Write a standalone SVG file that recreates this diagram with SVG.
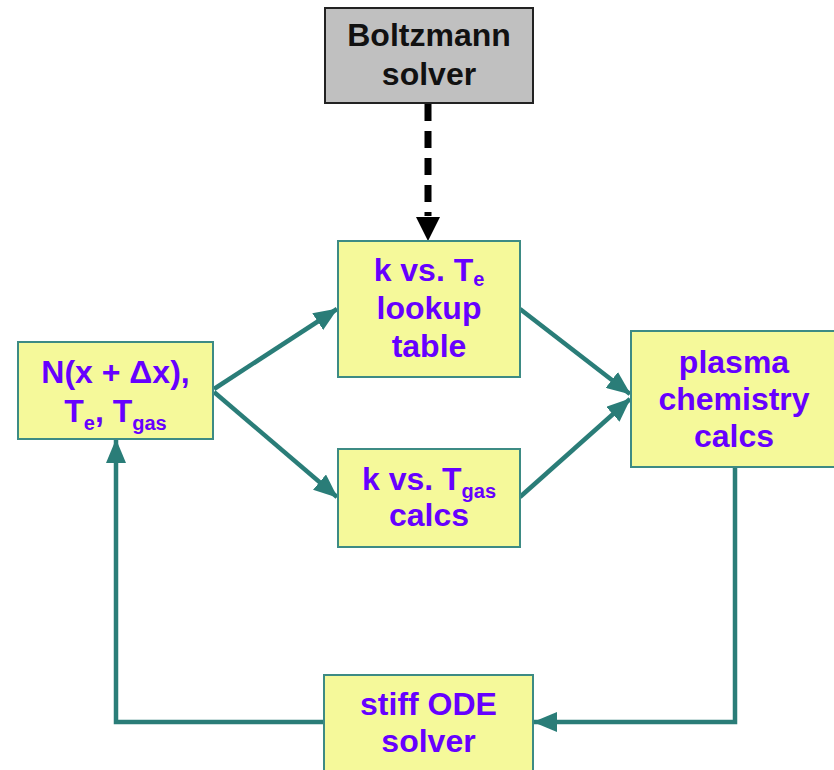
<svg xmlns="http://www.w3.org/2000/svg" width="834" height="770" viewBox="0 0 834 770">
<style>
.box{fill:#f5f99a;stroke:#3d8b84;stroke-width:2}
.gray{fill:#c0c0c0;stroke:#222;stroke-width:2}
.t{font-family:"Liberation Sans",Arial,sans-serif;font-weight:bold;font-size:32px;fill:#6600ff;text-anchor:middle}
.b{fill:#111}
.sub{font-size:20px}
.c{fill:none;stroke:#2a7d78;stroke-width:4.5}
</style>
<defs>
<marker id="ah" markerUnits="userSpaceOnUse" viewBox="0 0 24 20" markerWidth="24" markerHeight="20" refX="23" refY="10" orient="auto">
<path d="M0,0 L24,10 L0,20 z" fill="#2a7d78"/>
</marker>
<marker id="bh" markerUnits="userSpaceOnUse" viewBox="0 0 24 24" markerWidth="24" markerHeight="24" refX="23" refY="12" orient="auto">
<path d="M0,0 L24,12 L0,24 z" fill="#000"/>
</marker>
</defs>
<g id="connectors">
<line x1="428" y1="104" x2="428" y2="216" stroke="#000" stroke-width="7" stroke-dasharray="17 10"/>
<line x1="428" y1="214" x2="428" y2="240" stroke="#000" stroke-width="0.1" marker-end="url(#bh)"/>
<line class="c" x1="214" y1="389" x2="337" y2="309" marker-end="url(#ah)"/>
<line class="c" x1="214" y1="392" x2="337" y2="497" marker-end="url(#ah)"/>
<line class="c" x1="520" y1="309" x2="630" y2="394" marker-end="url(#ah)"/>
<line class="c" x1="520" y1="497" x2="630" y2="399" marker-end="url(#ah)"/>
<polyline class="c" points="735,467 735,722 534,722" marker-end="url(#ah)"/>
<polyline class="c" points="324,722 116,722 116,440" marker-end="url(#ah)"/>
</g>
<g id="boltzmann">
<rect class="gray" x="325" y="8" width="208" height="95"/>
<text class="t b" x="429" y="46">Boltzmann</text>
<text class="t b" x="429" y="85">solver</text>
</g>
<g id="lookup">
<rect class="box" x="338" y="241" width="182" height="136"/>
<text class="t" x="429" y="281">k vs. T<tspan class="sub" dy="5">e</tspan></text>
<text class="t" x="429" y="319">lookup</text>
<text class="t" x="429" y="357">table</text>
</g>
<g id="state">
<rect class="box" x="18" y="342" width="195" height="97"/>
<text class="t" x="115.5" y="383">N(x + Δx),</text>
<text class="t" x="115.5" y="422">T<tspan class="sub" dy="8">e</tspan><tspan dy="-8">, T</tspan><tspan class="sub" dy="8">gas</tspan></text>
</g>
<g id="tgas">
<rect class="box" x="338" y="449" width="182" height="98"/>
<text class="t" x="429" y="490">k vs. T<tspan class="sub" dy="8">gas</tspan></text>
<text class="t" x="429" y="526">calcs</text>
</g>
<g id="plasma">
<rect class="box" x="631" y="331" width="205" height="136"/>
<text class="t" x="734" y="373">plasma</text>
<text class="t" x="734" y="410">chemistry</text>
<text class="t" x="734" y="447">calcs</text>
</g>
<g id="ode">
<rect class="box" x="324" y="675" width="209" height="100"/>
<text class="t" x="428.5" y="715">stiff ODE</text>
<text class="t" x="428.5" y="752">solver</text>
</g>
</svg>
